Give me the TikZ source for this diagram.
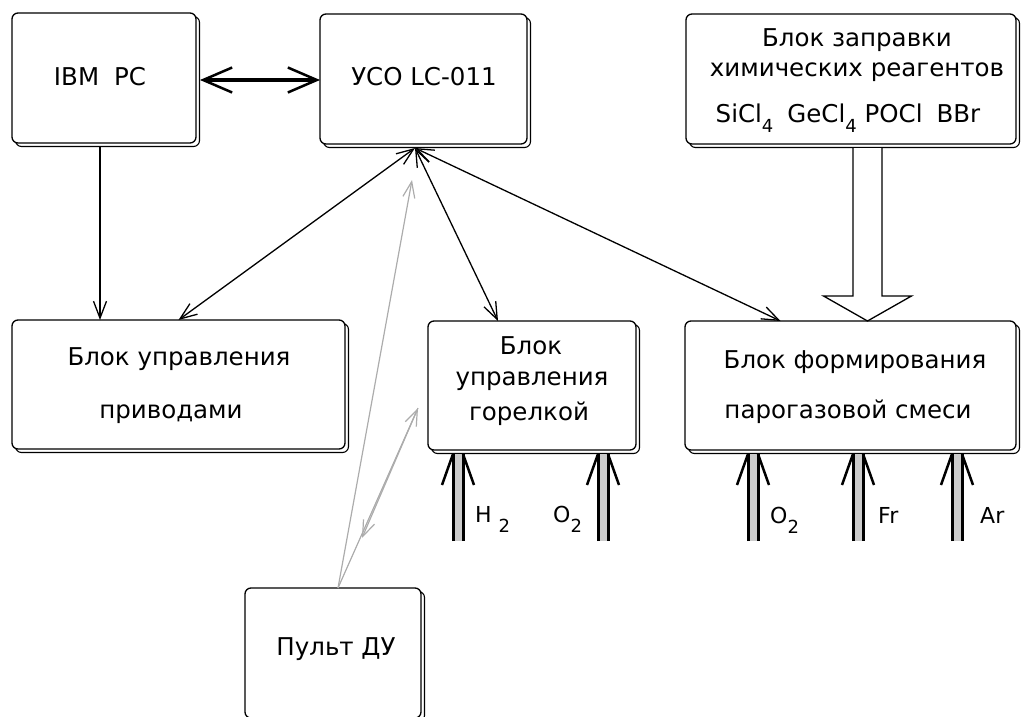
\documentclass[tikz,border=0pt]{standalone}
\usepackage{fontspec}
\setmainfont{DejaVu Sans}
\usetikzlibrary{arrows.meta,shadows,calc}
\newcommand\gsub[1]{\raisebox{-10pt}{\fontsize{18}{18}\selectfont #1}}
\begin{document}
\begin{tikzpicture}[x=1pt,y=-1pt,
  box/.style={draw=black, line width=1.3pt, fill=white, rounded corners=6pt,
    inner sep=0pt, outer sep=0pt,
    general shadow={draw=black, fill=white, line width=1.1pt, shadow xshift=3.5pt, shadow yshift=-3.5pt}},
  txt/.style={anchor=base, inner sep=0pt, font=\fontsize{24.5}{28}\selectfont},
  gtxt/.style={anchor=base west, inner sep=0pt, font=\fontsize{22}{26}\selectfont},
  conn/.style={line width=1.3pt, {Straight Barb[length=17pt,width=13pt]}-{Straight Barb[length=17pt,width=13pt]}},
  conn1/.style={line width=1.3pt, -{Straight Barb[length=17pt,width=13pt]}},
  bigconn/.style={line width=4pt, {Straight Barb[length=29pt,width=25pt,line width=2.5pt]}-{Straight Barb[length=29pt,width=25pt,line width=2.5pt]}},
  greyconn/.style={draw=gray!65, line width=1.2pt, -{Straight Barb[length=16pt,width=12pt]}},
  gasshaft/.style={draw=black, line width=3pt, double=gray!40, double distance=7pt},
  gasarm/.style={line width=2.5pt},
  hollow/.style={draw=black, line width=1.3pt, fill=white}
]
\useasboundingbox (0,0) rectangle (1021,717);
\clip (0,0) rectangle (1021,717);

% boxes
\node[box, minimum width=184pt, minimum height=130pt] (ibm) at (104,78) {};
\node[box, minimum width=207pt, minimum height=130pt] (uso) at (423.5,79) {};
\node[box, minimum width=330pt, minimum height=130pt] (zapr) at (851,79) {};
\node[box, minimum width=333pt, minimum height=129pt] (priv) at (178.5,384.5) {};
\node[box, minimum width=208pt, minimum height=129pt] (gor) at (532,385.5) {};
\node[box, minimum width=331pt, minimum height=129pt] (form) at (850.5,385.5) {};
\node[box, minimum width=176pt, minimum height=130pt] (pult) at (333,653) {};

% texts
\node[txt] (t1) at (100,86) {IBM\hspace{15pt}PC};
\node[txt] (t2) at (424,86) {УСО LC-011};
\node[txt] (t3) at (857,47) {Блок заправки};
\node[txt] (t4) at (857,77) {химических реагентов};
\node[txt] (t5) at (848,122) {SiCl\gsub{4}\hspace{14pt}GeCl\gsub{4} POCl\hspace{14pt}BBr};
\node[txt] (t6) at (179,365) {Блок управления};
\node[txt] (t7) at (171,418) {приводами};
\node[txt] (t8) at (531,354) {Блок};
\node[txt] (t9) at (532,385) {управления};
\node[txt] (t10) at (529,420) {горелкой};
\node[txt] (t11) at (855,368) {Блок формирования};
\node[txt] (t12) at (848,418) {парогазовой смеси};
\node[txt] (t13) at (336,655) {Пульт ДУ};

% gas labels
\node[gtxt] (l1) at (475,522) {H\hspace{7pt}\gsub{2}};
\node[gtxt] (l2) at (553,522) {O\gsub{2}};
\node[gtxt] (l3) at (770,523) {O\gsub{2}};
\node[gtxt] (l4) at (878,523) {Fr};
\node[gtxt] (l5) at (980,523) {Ar};

% connectors
\draw[bigconn] ($(ibm.east)+(4,2)$) -- ($(uso.west)+(0,1)$);
\draw[conn1] ($(ibm.south)+(-4,4)$) -- ($(priv.north)+(-78.5,0)$);
\coordinate (usob) at ($(uso.south)+(-8.5,4)$);
\draw[conn] (usob) -- (priv.north);
\draw[conn] (usob) -- ($(gor.north)+(-34,0)$);
\draw[conn] (usob) -- ($(form.north)+(-70,0)$);

% grey connectors
\coordinate (pt) at ($(pult.north)+(5,0)$);
\coordinate (ga1) at (412,180);
\coordinate (ga2) at (418,408);
\coordinate (ga3) at (362,538);
\draw[greyconn] (pt) -- (ga1);
\draw[greyconn] (pt) -- (ga2);
\draw[greyconn] (ga2) -- (ga3);

% hollow arrow
\coordinate (hs) at ($(zapr.south)+(16.5,4)$);
\coordinate (ht) at (hs |- form.north);
\draw[hollow] ($(hs)+(-14.5,0)$) -- ($(ht)+(-14.5,-25)$) -- ($(ht)+(-44,-25)$) -- (ht)
  -- ($(ht)+(44,-25)$) -- ($(ht)+(14.5,-25)$) -- ($(hs)+(14.5,0)$);

% gas arrows
\coordinate (ga) at (458,541);
\coordinate (gb) at (603,541);
\coordinate (gc) at (753,541);
\coordinate (gd) at (858,541);
\coordinate (ge) at (957,541);
\foreach \c/\b in {ga/gor, gb/gor, gc/form, gd/form, ge/form} {
  \draw[gasshaft] (\c) -- ($(\c |- \b.south)+(0,4)$);
  \draw[gasarm] ($(\c |- \b.south)+(-5,4)$) -- ++(-11,31);
  \draw[gasarm] ($(\c |- \b.south)+(5,4)$) -- ++(11,31);
}
\end{tikzpicture}
\end{document}
